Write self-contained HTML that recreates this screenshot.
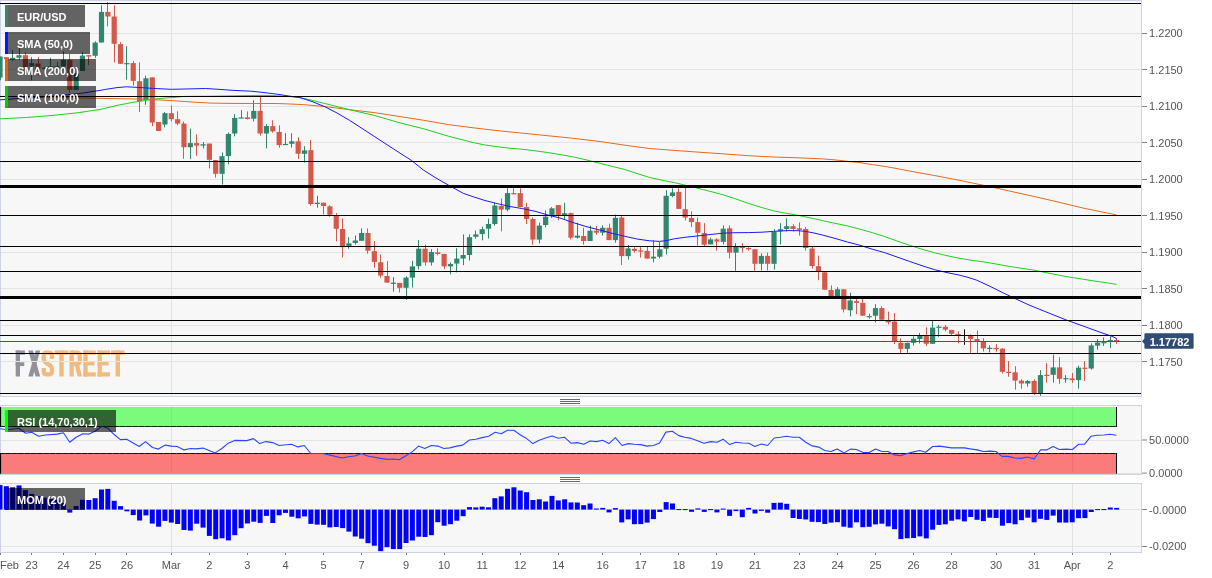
<!DOCTYPE html>
<html><head><meta charset="utf-8"><title>EUR/USD</title>
<style>html,body{margin:0;padding:0;background:#fff;width:1212px;height:578px;overflow:hidden}body{position:relative;font-family:"Liberation Sans", sans-serif}</style>
</head><body>
<svg width="1212" height="578" viewBox="0 0 1212 578" style="position:absolute;left:0;top:0;font-family:&quot;Liberation Sans&quot;,sans-serif">
<rect width="1212" height="578" fill="#ffffff"/>
<defs><filter id="gs" x="0" y="0" width="100%" height="100%" filterUnits="userSpaceOnUse" color-interpolation-filters="sRGB"><feOffset dx="0" dy="0"/></filter></defs>
<g filter="url(#gs)">
<rect x="0.5" y="0.5" width="1141" height="396" fill="#f7f7f7" stroke="#cdd2e7" stroke-width="1"/>
<line x1="171.5" x2="171.5" y1="1" y2="396" stroke="#e2e2e2" stroke-width="1"/>
<line x1="1072.5" x2="1072.5" y1="1" y2="396" stroke="#e2e2e2" stroke-width="1"/>
<g id="logo" transform="translate(0,350.5)">
<rect x="15.70" y="0.00" width="4.30" height="26.00" fill="#8f9299"/>
<rect x="15.70" y="0.00" width="9.20" height="4.20" fill="#8f9299"/>
<rect x="15.70" y="11.80" width="8.60" height="3.80" fill="#8f9299"/>
<polygon points="28.3,0 32.9,0 40.2,26 35.6,26" fill="#8f9299"/><polygon points="35.6,0 40.2,0 32.9,26 28.3,26" fill="#8f9299"/>
<path transform="translate(41.6,0)" d="M10.3,8.5 V5 Q10.3,2.15 7.5,2.15 H5 Q2.15,2.15 2.15,5 V8.6 Q2.15,10.6 4,11.9 L8.5,15 Q10.3,16.3 10.3,18.4 V21 Q10.3,23.85 7.5,23.85 H5 Q2.15,23.85 2.15,21 V17.5" fill="none" stroke="#f0bb7e" stroke-width="4.3"/>
<rect x="54.60" y="0.00" width="13.80" height="4.20" fill="#f0bb7e"/>
<rect x="59.30" y="0.00" width="4.40" height="26.00" fill="#f0bb7e"/>
<rect x="69.50" y="0.00" width="4.30" height="26.00" fill="#f0bb7e"/>
<path transform="translate(69.5,0)" d="M2.15,2.15 H7.4 Q10.2,2.15 10.2,5 V10.6 Q10.2,13.4 7.4,13.4 H2.15" fill="none" stroke="#f0bb7e" stroke-width="4.3"/>
<polygon points="74.7,14 79.1,14 81.9,26 77.5,26" fill="#f0bb7e"/>
<rect x="83.40" y="0.00" width="4.30" height="26.00" fill="#f0bb7e"/>
<rect x="83.40" y="0.00" width="12.40" height="4.20" fill="#f0bb7e"/>
<rect x="83.40" y="10.90" width="11.00" height="4.00" fill="#f0bb7e"/>
<rect x="83.40" y="21.80" width="12.40" height="4.20" fill="#f0bb7e"/>
<rect x="97.60" y="0.00" width="4.30" height="26.00" fill="#f0bb7e"/>
<rect x="97.60" y="0.00" width="12.40" height="4.20" fill="#f0bb7e"/>
<rect x="97.60" y="10.90" width="11.00" height="4.00" fill="#f0bb7e"/>
<rect x="97.60" y="21.80" width="12.40" height="4.20" fill="#f0bb7e"/>
<rect x="110.90" y="0.00" width="13.60" height="4.20" fill="#f0bb7e"/>
<rect x="115.60" y="0.00" width="4.40" height="26.00" fill="#f0bb7e"/>
</g>
<line x1="1" x2="1141" y1="33.5" y2="33.5" stroke="#e4e4e4" stroke-width="1"/>
<line x1="1" x2="1141" y1="69.5" y2="69.5" stroke="#e4e4e4" stroke-width="1"/>
<line x1="1" x2="1141" y1="106.5" y2="106.5" stroke="#e4e4e4" stroke-width="1"/>
<line x1="1" x2="1141" y1="142.5" y2="142.5" stroke="#e4e4e4" stroke-width="1"/>
<line x1="1" x2="1141" y1="179.5" y2="179.5" stroke="#e4e4e4" stroke-width="1"/>
<line x1="1" x2="1141" y1="215.5" y2="215.5" stroke="#e4e4e4" stroke-width="1"/>
<line x1="1" x2="1141" y1="252.5" y2="252.5" stroke="#e4e4e4" stroke-width="1"/>
<line x1="1" x2="1141" y1="288.5" y2="288.5" stroke="#e4e4e4" stroke-width="1"/>
<line x1="1" x2="1141" y1="325.5" y2="325.5" stroke="#e4e4e4" stroke-width="1"/>
<line x1="1" x2="1141" y1="361.5" y2="361.5" stroke="#e4e4e4" stroke-width="1"/>
<g id="candles">
<rect x="0" y="56.5" width="1" height="23.8" fill="#31866f"/>
<rect x="-2.60" y="56.5" width="5.2" height="21.1" fill="#31866f"/>
<rect x="6" y="57.2" width="1" height="1.9" fill="#d3594a"/>
<rect x="3.74" y="57.2" width="5.2" height="1.9" fill="#d3594a"/>
<rect x="12" y="49.9" width="1" height="10.6" fill="#31866f"/>
<rect x="10.09" y="57.8" width="5.2" height="2.0" fill="#31866f"/>
<rect x="19" y="47.9" width="1" height="11.9" fill="#31866f"/>
<rect x="16.43" y="55.2" width="5.2" height="2.6" fill="#31866f"/>
<rect x="25" y="52.5" width="1" height="14.5" fill="#d3594a"/>
<rect x="22.78" y="55.2" width="5.2" height="11.8" fill="#d3594a"/>
<rect x="31" y="57.2" width="1" height="23.1" fill="#31866f"/>
<rect x="29.12" y="63.1" width="5.2" height="3.3" fill="#31866f"/>
<rect x="38" y="57.2" width="1" height="18.4" fill="#d3594a"/>
<rect x="35.47" y="63.5" width="5.2" height="4.9" fill="#d3594a"/>
<rect x="44" y="67.0" width="1" height="2.0" fill="#31866f"/>
<rect x="41.81" y="67.6" width="5.2" height="1.2" fill="#31866f"/>
<rect x="50" y="57.8" width="1" height="9.7" fill="#31866f"/>
<rect x="48.16" y="66.4" width="5.2" height="1.2" fill="#31866f"/>
<rect x="57" y="61.8" width="1" height="5.5" fill="#31866f"/>
<rect x="54.50" y="66.3" width="5.2" height="1.2" fill="#31866f"/>
<rect x="63" y="51.2" width="1" height="15.2" fill="#31866f"/>
<rect x="60.84" y="59.8" width="5.2" height="6.6" fill="#31866f"/>
<rect x="69" y="53.9" width="1" height="38.9" fill="#d3594a"/>
<rect x="67.19" y="59.8" width="5.2" height="30.1" fill="#d3594a"/>
<rect x="76" y="73.0" width="1" height="16.9" fill="#31866f"/>
<rect x="73.53" y="73.0" width="5.2" height="16.9" fill="#31866f"/>
<rect x="82" y="51.9" width="1" height="19.1" fill="#31866f"/>
<rect x="79.88" y="55.6" width="5.2" height="15.4" fill="#31866f"/>
<rect x="88" y="55.2" width="1" height="9.9" fill="#d3594a"/>
<rect x="86.22" y="55.2" width="5.2" height="1.3" fill="#d3594a"/>
<rect x="95" y="41.3" width="1" height="16.5" fill="#31866f"/>
<rect x="92.57" y="42.6" width="5.2" height="13.2" fill="#31866f"/>
<rect x="101" y="5.3" width="1" height="37.2" fill="#31866f"/>
<rect x="98.91" y="11.9" width="5.2" height="30.6" fill="#31866f"/>
<rect x="107" y="2.0" width="1" height="24.4" fill="#d3594a"/>
<rect x="105.25" y="11.9" width="5.2" height="4.6" fill="#d3594a"/>
<rect x="114" y="5.3" width="1" height="57.1" fill="#d3594a"/>
<rect x="111.60" y="16.5" width="5.2" height="27.3" fill="#d3594a"/>
<rect x="120" y="42.2" width="1" height="21.6" fill="#d3594a"/>
<rect x="117.94" y="44.2" width="5.2" height="19.6" fill="#d3594a"/>
<rect x="126" y="46.2" width="1" height="33.4" fill="#31866f"/>
<rect x="124.29" y="63.1" width="5.2" height="1.2" fill="#31866f"/>
<rect x="133" y="61.1" width="1" height="24.4" fill="#d3594a"/>
<rect x="130.63" y="63.1" width="5.2" height="17.8" fill="#d3594a"/>
<rect x="139" y="62.4" width="1" height="49.6" fill="#d3594a"/>
<rect x="136.98" y="81.2" width="5.2" height="19.8" fill="#d3594a"/>
<rect x="145" y="75.6" width="1" height="29.1" fill="#31866f"/>
<rect x="143.32" y="78.3" width="5.2" height="21.7" fill="#31866f"/>
<rect x="152" y="77.4" width="1" height="48.7" fill="#d3594a"/>
<rect x="149.67" y="77.4" width="5.2" height="45.1" fill="#d3594a"/>
<rect x="158" y="122.0" width="1" height="9.0" fill="#d3594a"/>
<rect x="156.01" y="122.0" width="5.2" height="9.0" fill="#d3594a"/>
<rect x="164" y="112.0" width="1" height="15.4" fill="#31866f"/>
<rect x="162.35" y="113.2" width="5.2" height="11.3" fill="#31866f"/>
<rect x="171" y="105.5" width="1" height="16.0" fill="#d3594a"/>
<rect x="168.70" y="113.2" width="5.2" height="6.0" fill="#d3594a"/>
<rect x="177" y="111.3" width="1" height="14.0" fill="#d3594a"/>
<rect x="175.04" y="119.2" width="5.2" height="4.4" fill="#d3594a"/>
<rect x="183" y="121.5" width="1" height="37.3" fill="#d3594a"/>
<rect x="181.39" y="123.6" width="5.2" height="23.6" fill="#d3594a"/>
<rect x="190" y="128.6" width="1" height="30.5" fill="#31866f"/>
<rect x="187.73" y="143.1" width="5.2" height="4.1" fill="#31866f"/>
<rect x="196" y="134.4" width="1" height="21.4" fill="#d3594a"/>
<rect x="194.08" y="143.1" width="5.2" height="2.5" fill="#d3594a"/>
<rect x="203" y="142.1" width="1" height="6.3" fill="#31866f"/>
<rect x="200.42" y="144.3" width="5.2" height="1.3" fill="#31866f"/>
<rect x="209" y="143.6" width="1" height="24.8" fill="#d3594a"/>
<rect x="206.77" y="143.6" width="5.2" height="16.2" fill="#d3594a"/>
<rect x="215" y="160.1" width="1" height="17.5" fill="#d3594a"/>
<rect x="213.11" y="160.1" width="5.2" height="13.7" fill="#d3594a"/>
<rect x="222" y="152.4" width="1" height="32.2" fill="#31866f"/>
<rect x="219.45" y="156.2" width="5.2" height="17.6" fill="#31866f"/>
<rect x="228" y="132.4" width="1" height="32.0" fill="#31866f"/>
<rect x="225.80" y="134.0" width="5.2" height="22.1" fill="#31866f"/>
<rect x="234" y="114.2" width="1" height="22.1" fill="#31866f"/>
<rect x="232.14" y="117.9" width="5.2" height="15.6" fill="#31866f"/>
<rect x="241" y="110.1" width="1" height="8.1" fill="#31866f"/>
<rect x="238.49" y="117.4" width="5.2" height="1.2" fill="#31866f"/>
<rect x="247" y="111.3" width="1" height="8.2" fill="#d3594a"/>
<rect x="244.83" y="117.4" width="5.2" height="1.6" fill="#d3594a"/>
<rect x="253" y="100.2" width="1" height="21.3" fill="#31866f"/>
<rect x="251.18" y="110.9" width="5.2" height="7.8" fill="#31866f"/>
<rect x="260" y="96.4" width="1" height="39.1" fill="#d3594a"/>
<rect x="257.52" y="110.9" width="5.2" height="22.6" fill="#d3594a"/>
<rect x="266" y="124.1" width="1" height="24.3" fill="#31866f"/>
<rect x="263.86" y="126.1" width="5.2" height="7.4" fill="#31866f"/>
<rect x="272" y="120.3" width="1" height="12.4" fill="#d3594a"/>
<rect x="270.21" y="126.1" width="5.2" height="5.3" fill="#d3594a"/>
<rect x="279" y="125.3" width="1" height="22.3" fill="#d3594a"/>
<rect x="276.55" y="131.9" width="5.2" height="13.2" fill="#d3594a"/>
<rect x="285" y="133.2" width="1" height="11.9" fill="#31866f"/>
<rect x="282.90" y="143.9" width="5.2" height="1.2" fill="#31866f"/>
<rect x="291" y="133.2" width="1" height="14.4" fill="#31866f"/>
<rect x="289.24" y="141.3" width="5.2" height="2.5" fill="#31866f"/>
<rect x="298" y="137.3" width="1" height="21.8" fill="#d3594a"/>
<rect x="295.59" y="141.3" width="5.2" height="12.5" fill="#d3594a"/>
<rect x="304" y="146.2" width="1" height="16.4" fill="#31866f"/>
<rect x="301.93" y="150.4" width="5.2" height="3.4" fill="#31866f"/>
<rect x="310" y="140.1" width="1" height="65.6" fill="#d3594a"/>
<rect x="308.28" y="150.2" width="5.2" height="53.8" fill="#d3594a"/>
<rect x="317" y="195.8" width="1" height="11.9" fill="#31866f"/>
<rect x="314.62" y="202.7" width="5.2" height="1.3" fill="#31866f"/>
<rect x="323" y="202.7" width="1" height="11.7" fill="#d3594a"/>
<rect x="320.96" y="202.7" width="5.2" height="3.3" fill="#d3594a"/>
<rect x="329" y="205.2" width="1" height="11.5" fill="#d3594a"/>
<rect x="327.31" y="206.3" width="5.2" height="8.5" fill="#d3594a"/>
<rect x="336" y="213.1" width="1" height="28.2" fill="#d3594a"/>
<rect x="333.65" y="215.1" width="5.2" height="13.7" fill="#d3594a"/>
<rect x="342" y="218.3" width="1" height="39.2" fill="#d3594a"/>
<rect x="340.00" y="229.0" width="5.2" height="18.1" fill="#d3594a"/>
<rect x="348" y="237.2" width="1" height="11.5" fill="#31866f"/>
<rect x="346.34" y="243.3" width="5.2" height="2.6" fill="#31866f"/>
<rect x="355" y="235.5" width="1" height="9.1" fill="#31866f"/>
<rect x="352.69" y="240.5" width="5.2" height="2.5" fill="#31866f"/>
<rect x="361" y="228.4" width="1" height="12.4" fill="#31866f"/>
<rect x="359.03" y="233.0" width="5.2" height="7.8" fill="#31866f"/>
<rect x="367" y="228.4" width="1" height="25.3" fill="#d3594a"/>
<rect x="365.38" y="233.0" width="5.2" height="17.7" fill="#d3594a"/>
<rect x="374" y="241.3" width="1" height="26.4" fill="#d3594a"/>
<rect x="371.72" y="251.2" width="5.2" height="10.7" fill="#d3594a"/>
<rect x="380" y="254.5" width="1" height="23.1" fill="#d3594a"/>
<rect x="378.06" y="262.3" width="5.2" height="13.3" fill="#d3594a"/>
<rect x="387" y="261.1" width="1" height="21.5" fill="#d3594a"/>
<rect x="384.41" y="276.0" width="5.2" height="6.6" fill="#d3594a"/>
<rect x="393" y="277.1" width="1" height="14.5" fill="#31866f"/>
<rect x="390.75" y="282.6" width="5.2" height="1.3" fill="#31866f"/>
<rect x="399" y="282.9" width="1" height="9.6" fill="#d3594a"/>
<rect x="397.10" y="282.9" width="5.2" height="4.9" fill="#d3594a"/>
<rect x="406" y="276.3" width="1" height="23.6" fill="#31866f"/>
<rect x="403.44" y="277.6" width="5.2" height="10.2" fill="#31866f"/>
<rect x="412" y="260.8" width="1" height="26.7" fill="#31866f"/>
<rect x="409.79" y="266.4" width="5.2" height="11.2" fill="#31866f"/>
<rect x="418" y="240.1" width="1" height="29.3" fill="#31866f"/>
<rect x="416.13" y="248.7" width="5.2" height="17.4" fill="#31866f"/>
<rect x="425" y="244.6" width="1" height="21.0" fill="#d3594a"/>
<rect x="422.47" y="248.7" width="5.2" height="13.7" fill="#d3594a"/>
<rect x="431" y="249.2" width="1" height="16.4" fill="#31866f"/>
<rect x="428.82" y="252.0" width="5.2" height="10.4" fill="#31866f"/>
<rect x="437" y="248.2" width="1" height="7.1" fill="#d3594a"/>
<rect x="435.16" y="252.4" width="5.2" height="1.6" fill="#d3594a"/>
<rect x="444" y="253.7" width="1" height="15.2" fill="#d3594a"/>
<rect x="441.51" y="254.0" width="5.2" height="12.4" fill="#d3594a"/>
<rect x="450" y="262.4" width="1" height="11.9" fill="#31866f"/>
<rect x="447.85" y="263.9" width="5.2" height="2.5" fill="#31866f"/>
<rect x="456" y="248.2" width="1" height="24.1" fill="#31866f"/>
<rect x="454.20" y="258.6" width="5.2" height="5.0" fill="#31866f"/>
<rect x="463" y="234.4" width="1" height="30.8" fill="#31866f"/>
<rect x="460.54" y="255.0" width="5.2" height="3.6" fill="#31866f"/>
<rect x="469" y="234.4" width="1" height="26.2" fill="#31866f"/>
<rect x="466.89" y="237.2" width="5.2" height="17.8" fill="#31866f"/>
<rect x="475" y="230.6" width="1" height="8.0" fill="#31866f"/>
<rect x="473.23" y="234.4" width="5.2" height="2.4" fill="#31866f"/>
<rect x="482" y="226.5" width="1" height="13.8" fill="#31866f"/>
<rect x="479.57" y="229.2" width="5.2" height="4.9" fill="#31866f"/>
<rect x="488" y="218.6" width="1" height="20.0" fill="#31866f"/>
<rect x="485.92" y="224.0" width="5.2" height="4.7" fill="#31866f"/>
<rect x="494" y="202.7" width="1" height="22.9" fill="#31866f"/>
<rect x="492.26" y="205.5" width="5.2" height="18.5" fill="#31866f"/>
<rect x="501" y="198.4" width="1" height="33.0" fill="#d3594a"/>
<rect x="498.61" y="206.0" width="5.2" height="3.6" fill="#d3594a"/>
<rect x="507" y="188.2" width="1" height="23.1" fill="#31866f"/>
<rect x="504.95" y="193.1" width="5.2" height="16.5" fill="#31866f"/>
<rect x="513" y="188.2" width="1" height="6.1" fill="#d3594a"/>
<rect x="511.30" y="193.1" width="5.2" height="1.2" fill="#d3594a"/>
<rect x="520" y="188.2" width="1" height="18.9" fill="#d3594a"/>
<rect x="517.64" y="193.1" width="5.2" height="14.0" fill="#d3594a"/>
<rect x="526" y="202.7" width="1" height="21.4" fill="#d3594a"/>
<rect x="523.99" y="207.1" width="5.2" height="11.9" fill="#d3594a"/>
<rect x="532" y="217.5" width="1" height="27.1" fill="#d3594a"/>
<rect x="530.33" y="219.0" width="5.2" height="20.6" fill="#d3594a"/>
<rect x="539" y="222.5" width="1" height="20.9" fill="#31866f"/>
<rect x="536.67" y="225.6" width="5.2" height="14.0" fill="#31866f"/>
<rect x="545" y="210.4" width="1" height="17.0" fill="#31866f"/>
<rect x="543.02" y="216.7" width="5.2" height="8.3" fill="#31866f"/>
<rect x="551" y="207.1" width="1" height="10.8" fill="#31866f"/>
<rect x="549.36" y="208.3" width="5.2" height="7.9" fill="#31866f"/>
<rect x="558" y="205.1" width="1" height="15.2" fill="#d3594a"/>
<rect x="555.71" y="205.1" width="5.2" height="10.3" fill="#d3594a"/>
<rect x="564" y="202.7" width="1" height="16.8" fill="#31866f"/>
<rect x="562.05" y="213.2" width="5.2" height="2.2" fill="#31866f"/>
<rect x="570" y="212.6" width="1" height="26.7" fill="#d3594a"/>
<rect x="568.40" y="213.2" width="5.2" height="24.5" fill="#d3594a"/>
<rect x="577" y="222.8" width="1" height="15.7" fill="#31866f"/>
<rect x="574.74" y="235.7" width="5.2" height="2.0" fill="#31866f"/>
<rect x="583" y="227.8" width="1" height="16.8" fill="#d3594a"/>
<rect x="581.08" y="236.0" width="5.2" height="5.0" fill="#d3594a"/>
<rect x="590" y="225.6" width="1" height="15.4" fill="#31866f"/>
<rect x="587.43" y="230.7" width="5.2" height="10.3" fill="#31866f"/>
<rect x="596" y="226.1" width="1" height="8.6" fill="#d3594a"/>
<rect x="593.77" y="230.7" width="5.2" height="2.0" fill="#d3594a"/>
<rect x="602" y="225.3" width="1" height="10.2" fill="#31866f"/>
<rect x="600.12" y="227.8" width="5.2" height="4.9" fill="#31866f"/>
<rect x="609" y="223.6" width="1" height="16.5" fill="#d3594a"/>
<rect x="606.46" y="227.8" width="5.2" height="12.3" fill="#d3594a"/>
<rect x="615" y="214.6" width="1" height="28.0" fill="#31866f"/>
<rect x="612.81" y="217.9" width="5.2" height="22.2" fill="#31866f"/>
<rect x="621" y="215.9" width="1" height="49.0" fill="#d3594a"/>
<rect x="619.15" y="217.5" width="5.2" height="38.6" fill="#d3594a"/>
<rect x="628" y="245.1" width="1" height="14.5" fill="#31866f"/>
<rect x="625.50" y="248.4" width="5.2" height="7.7" fill="#31866f"/>
<rect x="634" y="247.2" width="1" height="5.3" fill="#d3594a"/>
<rect x="631.84" y="248.9" width="5.2" height="2.0" fill="#d3594a"/>
<rect x="640" y="247.2" width="1" height="10.3" fill="#d3594a"/>
<rect x="638.18" y="250.4" width="5.2" height="1.3" fill="#d3594a"/>
<rect x="647" y="246.7" width="1" height="11.9" fill="#d3594a"/>
<rect x="644.53" y="250.9" width="5.2" height="7.7" fill="#d3594a"/>
<rect x="653" y="240.2" width="1" height="22.2" fill="#31866f"/>
<rect x="650.87" y="256.7" width="5.2" height="1.8" fill="#31866f"/>
<rect x="659" y="242.1" width="1" height="16.3" fill="#31866f"/>
<rect x="657.22" y="249.3" width="5.2" height="7.4" fill="#31866f"/>
<rect x="666" y="190.2" width="1" height="64.2" fill="#31866f"/>
<rect x="663.56" y="195.8" width="5.2" height="52.9" fill="#31866f"/>
<rect x="672" y="188.3" width="1" height="9.0" fill="#31866f"/>
<rect x="669.91" y="192.4" width="5.2" height="3.6" fill="#31866f"/>
<rect x="678" y="188.3" width="1" height="20.6" fill="#d3594a"/>
<rect x="676.25" y="191.9" width="5.2" height="17.0" fill="#d3594a"/>
<rect x="685" y="186.9" width="1" height="33.5" fill="#d3594a"/>
<rect x="682.60" y="209.2" width="5.2" height="8.4" fill="#d3594a"/>
<rect x="691" y="211.4" width="1" height="15.6" fill="#d3594a"/>
<rect x="688.94" y="218.0" width="5.2" height="4.1" fill="#d3594a"/>
<rect x="697" y="217.6" width="1" height="28.1" fill="#d3594a"/>
<rect x="695.28" y="222.1" width="5.2" height="10.7" fill="#d3594a"/>
<rect x="704" y="223.2" width="1" height="23.6" fill="#d3594a"/>
<rect x="701.63" y="233.1" width="5.2" height="11.6" fill="#d3594a"/>
<rect x="710" y="237.8" width="1" height="6.6" fill="#31866f"/>
<rect x="707.97" y="239.4" width="5.2" height="5.0" fill="#31866f"/>
<rect x="716" y="238.3" width="1" height="12.3" fill="#d3594a"/>
<rect x="714.32" y="239.4" width="5.2" height="2.2" fill="#d3594a"/>
<rect x="723" y="225.4" width="1" height="19.0" fill="#31866f"/>
<rect x="720.66" y="228.7" width="5.2" height="13.2" fill="#31866f"/>
<rect x="729" y="225.4" width="1" height="33.0" fill="#d3594a"/>
<rect x="727.01" y="228.3" width="5.2" height="24.3" fill="#d3594a"/>
<rect x="735" y="243.2" width="1" height="27.6" fill="#31866f"/>
<rect x="733.35" y="246.0" width="5.2" height="6.6" fill="#31866f"/>
<rect x="742" y="243.2" width="1" height="9.4" fill="#d3594a"/>
<rect x="739.69" y="246.8" width="5.2" height="1.2" fill="#d3594a"/>
<rect x="748" y="247.3" width="1" height="3.3" fill="#d3594a"/>
<rect x="746.04" y="248.0" width="5.2" height="1.3" fill="#d3594a"/>
<rect x="754" y="249.3" width="1" height="21.5" fill="#d3594a"/>
<rect x="752.38" y="249.3" width="5.2" height="14.5" fill="#d3594a"/>
<rect x="761" y="253.4" width="1" height="17.0" fill="#31866f"/>
<rect x="758.73" y="255.9" width="5.2" height="7.9" fill="#31866f"/>
<rect x="767" y="252.6" width="1" height="17.8" fill="#d3594a"/>
<rect x="765.07" y="255.9" width="5.2" height="7.9" fill="#d3594a"/>
<rect x="774" y="229.2" width="1" height="40.4" fill="#31866f"/>
<rect x="771.42" y="232.0" width="5.2" height="31.8" fill="#31866f"/>
<rect x="780" y="223.2" width="1" height="21.2" fill="#31866f"/>
<rect x="777.76" y="229.2" width="5.2" height="2.0" fill="#31866f"/>
<rect x="786" y="218.3" width="1" height="13.2" fill="#31866f"/>
<rect x="784.11" y="226.2" width="5.2" height="2.8" fill="#31866f"/>
<rect x="793" y="224.2" width="1" height="7.3" fill="#d3594a"/>
<rect x="790.45" y="226.2" width="5.2" height="2.8" fill="#d3594a"/>
<rect x="799" y="222.4" width="1" height="13.2" fill="#d3594a"/>
<rect x="796.79" y="228.3" width="5.2" height="1.5" fill="#d3594a"/>
<rect x="805" y="227.0" width="1" height="23.6" fill="#d3594a"/>
<rect x="803.14" y="229.0" width="5.2" height="19.0" fill="#d3594a"/>
<rect x="812" y="246.8" width="1" height="21.7" fill="#d3594a"/>
<rect x="809.48" y="248.5" width="5.2" height="17.5" fill="#d3594a"/>
<rect x="818" y="255.6" width="1" height="24.6" fill="#d3594a"/>
<rect x="815.83" y="266.2" width="5.2" height="5.3" fill="#d3594a"/>
<rect x="824" y="272.3" width="1" height="17.4" fill="#d3594a"/>
<rect x="822.17" y="272.3" width="5.2" height="17.4" fill="#d3594a"/>
<rect x="831" y="285.5" width="1" height="10.8" fill="#d3594a"/>
<rect x="828.52" y="290.0" width="5.2" height="6.3" fill="#d3594a"/>
<rect x="837" y="287.2" width="1" height="9.1" fill="#31866f"/>
<rect x="834.86" y="289.3" width="5.2" height="7.0" fill="#31866f"/>
<rect x="843" y="289.3" width="1" height="23.1" fill="#d3594a"/>
<rect x="841.21" y="289.3" width="5.2" height="20.2" fill="#d3594a"/>
<rect x="850" y="292.6" width="1" height="23.8" fill="#31866f"/>
<rect x="847.55" y="300.4" width="5.2" height="9.9" fill="#31866f"/>
<rect x="856" y="298.7" width="1" height="15.4" fill="#d3594a"/>
<rect x="853.89" y="301.2" width="5.2" height="1.7" fill="#d3594a"/>
<rect x="862" y="299.2" width="1" height="16.5" fill="#d3594a"/>
<rect x="860.24" y="302.9" width="5.2" height="12.8" fill="#d3594a"/>
<rect x="869" y="313.6" width="1" height="4.9" fill="#31866f"/>
<rect x="866.58" y="316.0" width="5.2" height="1.2" fill="#31866f"/>
<rect x="875" y="304.2" width="1" height="18.1" fill="#31866f"/>
<rect x="872.93" y="308.1" width="5.2" height="7.6" fill="#31866f"/>
<rect x="881" y="306.2" width="1" height="14.8" fill="#d3594a"/>
<rect x="879.27" y="308.1" width="5.2" height="11.6" fill="#d3594a"/>
<rect x="888" y="311.6" width="1" height="12.7" fill="#d3594a"/>
<rect x="885.62" y="321.0" width="5.2" height="1.3" fill="#d3594a"/>
<rect x="894" y="313.1" width="1" height="31.0" fill="#d3594a"/>
<rect x="891.96" y="321.5" width="5.2" height="20.1" fill="#d3594a"/>
<rect x="900" y="338.3" width="1" height="14.7" fill="#d3594a"/>
<rect x="898.30" y="342.8" width="5.2" height="6.1" fill="#d3594a"/>
<rect x="907" y="342.8" width="1" height="10.0" fill="#31866f"/>
<rect x="904.65" y="342.8" width="5.2" height="6.1" fill="#31866f"/>
<rect x="913" y="336.3" width="1" height="9.2" fill="#31866f"/>
<rect x="910.99" y="338.8" width="5.2" height="4.0" fill="#31866f"/>
<rect x="919" y="332.9" width="1" height="10.6" fill="#31866f"/>
<rect x="917.34" y="335.3" width="5.2" height="3.7" fill="#31866f"/>
<rect x="926" y="327.3" width="1" height="18.5" fill="#d3594a"/>
<rect x="923.68" y="335.4" width="5.2" height="8.4" fill="#d3594a"/>
<rect x="932" y="321.0" width="1" height="22.8" fill="#31866f"/>
<rect x="930.03" y="327.6" width="5.2" height="16.2" fill="#31866f"/>
<rect x="938" y="324.9" width="1" height="11.9" fill="#31866f"/>
<rect x="936.37" y="326.7" width="5.2" height="1.2" fill="#31866f"/>
<rect x="945" y="325.1" width="1" height="6.1" fill="#d3594a"/>
<rect x="942.72" y="326.8" width="5.2" height="2.8" fill="#d3594a"/>
<rect x="951" y="329.9" width="1" height="4.9" fill="#d3594a"/>
<rect x="949.06" y="329.9" width="5.2" height="3.9" fill="#d3594a"/>
<rect x="958" y="331.2" width="1" height="12.1" fill="#d3594a"/>
<rect x="955.40" y="334.0" width="5.2" height="1.2" fill="#d3594a"/>
<rect x="964" y="329.4" width="1" height="15.4" fill="#111111"/>
<rect x="970" y="334.3" width="1" height="18.6" fill="#d3594a"/>
<rect x="968.09" y="336.0" width="5.2" height="3.0" fill="#d3594a"/>
<rect x="977" y="330.4" width="1" height="22.7" fill="#d3594a"/>
<rect x="974.44" y="339.0" width="5.2" height="2.0" fill="#d3594a"/>
<rect x="983" y="338.1" width="1" height="13.4" fill="#d3594a"/>
<rect x="980.78" y="341.4" width="5.2" height="7.0" fill="#d3594a"/>
<rect x="989" y="345.2" width="1" height="7.2" fill="#31866f"/>
<rect x="987.13" y="347.8" width="5.2" height="1.2" fill="#31866f"/>
<rect x="996" y="344.1" width="1" height="7.6" fill="#d3594a"/>
<rect x="993.47" y="347.9" width="5.2" height="1.3" fill="#d3594a"/>
<rect x="1002" y="348.0" width="1" height="25.5" fill="#d3594a"/>
<rect x="999.82" y="348.7" width="5.2" height="23.1" fill="#d3594a"/>
<rect x="1008" y="361.1" width="1" height="15.7" fill="#d3594a"/>
<rect x="1006.16" y="371.8" width="5.2" height="1.2" fill="#d3594a"/>
<rect x="1015" y="366.1" width="1" height="23.6" fill="#d3594a"/>
<rect x="1012.50" y="372.3" width="5.2" height="8.3" fill="#d3594a"/>
<rect x="1021" y="379.3" width="1" height="9.4" fill="#d3594a"/>
<rect x="1018.85" y="380.7" width="5.2" height="2.8" fill="#d3594a"/>
<rect x="1027" y="380.1" width="1" height="6.6" fill="#31866f"/>
<rect x="1025.19" y="381.0" width="5.2" height="2.5" fill="#31866f"/>
<rect x="1034" y="379.3" width="1" height="15.6" fill="#d3594a"/>
<rect x="1031.54" y="380.9" width="5.2" height="12.1" fill="#d3594a"/>
<rect x="1040" y="370.2" width="1" height="25.6" fill="#31866f"/>
<rect x="1037.88" y="375.1" width="5.2" height="18.2" fill="#31866f"/>
<rect x="1046" y="363.1" width="1" height="19.5" fill="#d3594a"/>
<rect x="1044.23" y="374.8" width="5.2" height="1.2" fill="#d3594a"/>
<rect x="1053" y="354.5" width="1" height="28.1" fill="#31866f"/>
<rect x="1050.57" y="367.4" width="5.2" height="7.4" fill="#31866f"/>
<rect x="1059" y="357.3" width="1" height="26.6" fill="#d3594a"/>
<rect x="1056.91" y="367.4" width="5.2" height="11.4" fill="#d3594a"/>
<rect x="1065" y="375.1" width="1" height="7.5" fill="#31866f"/>
<rect x="1063.26" y="378.1" width="5.2" height="1.2" fill="#31866f"/>
<rect x="1072" y="373.0" width="1" height="9.9" fill="#d3594a"/>
<rect x="1069.60" y="378.4" width="5.2" height="1.7" fill="#d3594a"/>
<rect x="1078" y="365.7" width="1" height="23.0" fill="#31866f"/>
<rect x="1075.95" y="367.7" width="5.2" height="12.4" fill="#31866f"/>
<rect x="1084" y="361.1" width="1" height="19.8" fill="#d3594a"/>
<rect x="1082.29" y="367.7" width="5.2" height="1.2" fill="#d3594a"/>
<rect x="1091" y="343.3" width="1" height="26.4" fill="#31866f"/>
<rect x="1088.64" y="345.4" width="5.2" height="23.1" fill="#31866f"/>
<rect x="1097" y="339.2" width="1" height="10.4" fill="#31866f"/>
<rect x="1094.98" y="342.5" width="5.2" height="3.1" fill="#31866f"/>
<rect x="1103" y="337.5" width="1" height="8.4" fill="#31866f"/>
<rect x="1101.33" y="342.1" width="5.2" height="1.2" fill="#31866f"/>
<rect x="1110" y="336.4" width="1" height="11.5" fill="#31866f"/>
<rect x="1107.67" y="340.0" width="5.2" height="1.2" fill="#31866f"/>
<rect x="1116" y="338.0" width="1" height="6.1" fill="#d3594a"/>
<rect x="1114.01" y="340.0" width="5.2" height="1.2" fill="#d3594a"/>
</g>
<polyline points="0.0,96.4 50.0,97.3 96.4,98.3 132.0,98.9 145.0,99.3 158.4,99.9 171.0,100.6 184.8,101.5 198.0,102.4 211.2,103.1 230.0,103.4 250.8,103.5 277.2,103.5 290.0,104.0 303.6,104.6 312.0,105.4 324.8,106.5 349.5,109.7 374.3,112.6 399.0,116.4 423.8,120.3 448.5,124.6 473.3,127.8 498.0,130.7 522.8,133.2 547.5,135.7 572.3,138.2 600.0,141.5 624.8,145.2 649.5,148.5 674.3,150.4 699.0,152.2 723.8,153.9 748.5,155.7 773.3,157.0 798.0,157.8 822.8,158.9 835.0,159.9 847.5,161.3 860.0,162.6 872.3,164.6 884.8,166.4 897.0,168.6 909.5,171.0 934.3,175.5 959.0,180.2 983.8,185.4 1008.5,190.8 1033.3,196.3 1058.0,202.0 1082.8,208.0 1107.5,213.1 1116.5,214.9" fill="none" stroke="#e8691b" stroke-width="1.0" stroke-linejoin="round"/>
<polyline points="0.0,118.8 26.4,117.5 52.8,115.4 79.2,112.6 92.0,110.6 100.0,109.5 105.6,108.2 118.0,105.2 126.4,103.6 132.0,102.5 145.0,100.5 152.8,99.3 158.4,98.6 171.3,97.6 184.8,96.4 211.2,96.2 235.0,95.8 250.8,95.5 265.0,95.4 277.2,95.8 290.0,96.6 300.0,97.6 312.0,100.3 324.8,103.5 349.5,109.7 374.3,115.4 399.0,122.6 423.8,128.8 448.5,136.2 473.3,142.6 485.0,145.0 498.0,146.8 510.0,148.2 522.8,149.3 535.0,150.8 547.5,152.5 560.0,154.5 572.3,156.7 586.0,159.8 600.0,163.3 612.0,166.3 624.8,169.5 637.0,173.5 649.5,177.4 662.0,180.2 674.3,182.6 686.0,185.4 699.0,188.6 711.0,191.6 723.8,195.0 736.0,199.0 748.5,203.4 761.0,207.3 773.3,210.8 786.0,213.3 798.0,215.3 810.0,217.8 822.8,220.7 835.0,223.3 847.5,225.9 860.0,229.2 872.3,232.6 884.8,236.6 897.0,241.0 909.5,245.3 922.0,249.2 934.3,252.7 947.0,255.7 959.0,258.2 971.0,260.2 983.8,261.9 996.0,264.0 1008.5,266.3 1021.0,268.2 1033.3,270.0 1045.0,272.4 1058.0,275.0 1070.0,277.2 1082.8,279.2 1095.0,281.1 1107.5,282.9 1116.5,284.4" fill="none" stroke="#1fd11f" stroke-width="1.0" stroke-linejoin="round"/>
<polyline points="0.0,99.8 26.0,98.0 52.0,96.2 79.0,93.6 100.0,90.4 105.6,89.4 117.0,87.6 126.4,86.8 138.0,87.4 152.8,88.4 171.3,89.3 190.0,88.9 205.6,88.5 220.0,89.4 232.0,90.3 250.8,91.2 260.0,92.1 265.0,92.7 277.2,94.2 290.0,96.2 300.0,97.6 312.0,101.5 324.8,106.7 337.0,113.0 349.5,120.3 374.3,136.4 399.0,152.5 411.4,160.4 423.8,170.3 436.0,178.0 448.5,185.2 463.4,193.4 473.3,196.8 485.0,200.5 498.0,203.8 510.0,206.5 522.8,208.7 536.0,211.5 547.5,214.9 560.0,218.0 572.3,222.3 586.0,226.5 600.0,230.1 612.0,233.3 624.8,236.3 637.0,239.0 649.5,240.8 659.4,241.4 667.0,240.5 674.3,238.8 686.0,237.2 699.0,235.8 712.0,234.3 723.8,233.1 736.0,232.7 748.5,232.6 762.0,232.2 773.3,231.4 788.0,230.6 798.0,230.7 805.4,231.4 814.0,233.0 822.8,235.1 835.0,238.4 847.5,242.0 860.0,245.3 872.3,249.2 884.8,252.7 897.0,257.0 909.5,261.4 922.0,265.7 934.3,269.6 947.0,272.6 959.0,275.0 968.0,277.4 976.3,280.0 990.0,286.3 1003.6,293.1 1016.0,299.0 1029.0,305.0 1047.0,312.3 1066.0,319.9 1083.0,326.0 1100.0,332.2 1110.0,335.6 1114.0,337.2 1116.7,338.8" fill="none" stroke="#1a1aff" stroke-width="1.0" stroke-linejoin="round"/>
<rect x="0" y="3" width="1141" height="1" fill="#000"/>
<rect x="0" y="96" width="1141" height="1" fill="#000"/>
<rect x="0" y="161" width="1141" height="1" fill="#000"/>
<rect x="0" y="215" width="1141" height="1" fill="#000"/>
<rect x="0" y="246" width="1141" height="1" fill="#000"/>
<rect x="0" y="271" width="1141" height="1" fill="#000"/>
<rect x="0" y="320" width="1141" height="1" fill="#000"/>
<rect x="0" y="335" width="1141" height="1" fill="#000"/>
<rect x="0" y="353" width="1141" height="1" fill="#000"/>
<rect x="0" y="393" width="1141" height="1" fill="#000"/>
<rect x="0" y="185" width="1141" height="3" fill="#000"/>
<rect x="0" y="296" width="1141" height="3" fill="#000"/>
<rect x="0" y="341" width="1141" height="1" fill="#3b5780"/>
<rect x="1141" y="0" width="1" height="397" fill="#cdd2e7"/>
<rect x="8" y="5" width="77" height="22" fill="rgba(0,0,0,0.6)"/>
<rect x="5" y="5" width="3" height="22" fill="#2f8a74"/>
<text x="17" y="20.8" font-size="11" font-weight="bold" fill="#ffffff">EUR/USD</text>
<rect x="8" y="32" width="82" height="22" fill="rgba(0,0,0,0.6)"/>
<rect x="5" y="32" width="3" height="22" fill="#0a14ff"/>
<text x="17" y="47.8" font-size="11" font-weight="bold" fill="#ffffff">SMA (50,0)</text>
<rect x="8" y="59" width="88" height="22" fill="rgba(0,0,0,0.6)"/>
<rect x="5" y="59" width="3" height="22" fill="#e8600c"/>
<text x="17" y="74.8" font-size="11" font-weight="bold" fill="#ffffff">SMA (200,0)</text>
<rect x="8" y="86" width="88" height="22" fill="rgba(0,0,0,0.6)"/>
<rect x="5" y="86" width="3" height="22" fill="#00d000"/>
<text x="17" y="101.8" font-size="11" font-weight="bold" fill="#ffffff">SMA (100,0)</text>
<line x1="1142" x2="1147" y1="33.5" y2="33.5" stroke="#808080" stroke-width="1"/>
<text x="1149.1" y="36.75" font-size="11" fill="#555555">1.2200</text>
<line x1="1142" x2="1147" y1="69.5" y2="69.5" stroke="#808080" stroke-width="1"/>
<text x="1149.1" y="73.75" font-size="11" fill="#555555">1.2150</text>
<line x1="1142" x2="1147" y1="106.5" y2="106.5" stroke="#808080" stroke-width="1"/>
<text x="1149.1" y="109.75" font-size="11" fill="#555555">1.2100</text>
<line x1="1142" x2="1147" y1="142.5" y2="142.5" stroke="#808080" stroke-width="1"/>
<text x="1149.1" y="146.75" font-size="11" fill="#555555">1.2050</text>
<line x1="1142" x2="1147" y1="179.5" y2="179.5" stroke="#808080" stroke-width="1"/>
<text x="1149.1" y="182.75" font-size="11" fill="#555555">1.2000</text>
<line x1="1142" x2="1147" y1="215.5" y2="215.5" stroke="#808080" stroke-width="1"/>
<text x="1149.1" y="219.75" font-size="11" fill="#555555">1.1950</text>
<line x1="1142" x2="1147" y1="252.5" y2="252.5" stroke="#808080" stroke-width="1"/>
<text x="1149.1" y="255.75" font-size="11" fill="#555555">1.1900</text>
<line x1="1142" x2="1147" y1="288.5" y2="288.5" stroke="#808080" stroke-width="1"/>
<text x="1149.1" y="292.75" font-size="11" fill="#555555">1.1850</text>
<line x1="1142" x2="1147" y1="325.5" y2="325.5" stroke="#808080" stroke-width="1"/>
<text x="1149.1" y="328.75" font-size="11" fill="#555555">1.1800</text>
<line x1="1142" x2="1147" y1="361.5" y2="361.5" stroke="#808080" stroke-width="1"/>
<text x="1149.1" y="365.75" font-size="11" fill="#555555">1.1750</text>
<path d="M1142,341.3 L1144.4,338.6 L1144.4,334.3 Q1144.4,333.3 1145.4,333.3 L1192.6,333.3 Q1193.6,333.3 1193.6,334.3 L1193.6,347.7 Q1193.6,348.7 1192.6,348.7 L1145.4,348.7 Q1144.4,348.7 1144.4,347.7 L1144.4,344 Z" fill="#2f4b76"/>
<text x="1149.7" y="346" font-size="11" font-weight="bold" fill="#ffffff">1.17782</text>
<rect x="560" y="399" width="20" height="1" fill="#6a6a6a"/>
<rect x="560" y="401" width="20" height="1" fill="#6a6a6a"/>
<rect x="560" y="403" width="20" height="1" fill="#6a6a6a"/>
<rect x="560" y="477" width="20" height="1" fill="#6a6a6a"/>
<rect x="560" y="479" width="20" height="1" fill="#6a6a6a"/>
<rect x="560" y="481" width="20" height="1" fill="#6a6a6a"/>
<rect x="0.5" y="405.5" width="1141" height="69" fill="#f7f7f7" stroke="#cdd2e7" stroke-width="1"/>
<line x1="171.5" x2="171.5" y1="406" y2="474" stroke="#e2e2e2" stroke-width="1"/>
<line x1="1072.5" x2="1072.5" y1="406" y2="474" stroke="#e2e2e2" stroke-width="1"/>
<line x1="1" x2="1141" y1="440.5" y2="440.5" stroke="#e4e4e4" stroke-width="1"/>
<line x1="1" x2="1141" y1="473.5" y2="473.5" stroke="#e4e4e4" stroke-width="1"/>
<rect x="1" y="407" width="1115.5" height="19.5" fill="rgba(0,255,0,0.5)"/>
<rect x="1" y="453.3" width="1115.5" height="20.5" fill="rgba(255,0,0,0.5)"/>
<line x1="1" x2="1116.5" y1="426.5" y2="426.5" stroke="rgba(0,0,0,0.5)" stroke-width="1.2"/>
<line x1="1" x2="1116.5" y1="453.5" y2="453.5" stroke="rgba(0,0,0,0.5)" stroke-width="1.2"/>
<line x1="1" x2="1116.5" y1="426.5" y2="426.5" stroke="#062806" stroke-width="1.2" stroke-dasharray="5.745,0.6" stroke-dashoffset="2"/>
<line x1="1" x2="1116.5" y1="453.5" y2="453.5" stroke="#2e0606" stroke-width="1.2" stroke-dasharray="5.745,0.6" stroke-dashoffset="2"/>
<rect x="0" y="407" width="1.1" height="20" fill="#000"/><rect x="1116" y="407" width="1" height="20" fill="#000"/>
<rect x="0" y="453" width="1.1" height="20.8" fill="#000"/><rect x="1116" y="453" width="1" height="20.8" fill="#000"/>
<polyline points="0.0,428.7 7.9,429.7 18.8,428.3 25.7,433.3 31.7,432.3 38.6,436.2 45.5,435.0 57.4,434.1 63.4,432.7 69.7,442.2 76.2,437.2 82.8,433.7 89.1,434.1 95.0,431.3 102.0,426.3 107.9,428.3 113.9,434.3 120.4,439.6 126.7,439.2 139.2,446.5 145.5,441.6 152.5,447.5 158.4,449.1 165.3,445.1 171.3,446.1 177.2,446.5 184.2,449.9 190.5,448.5 196.0,448.9 203.0,448.1 215.2,452.9 221.8,448.5 227.7,443.6 234.7,440.4 246.8,440.6 253.4,438.6 259.7,443.6 266.0,441.6 272.6,442.6 279.1,445.5 291.4,444.2 297.9,446.9 304.3,445.5 310.8,453.5 323.1,453.5 329.0,454.9 341.9,458.0 348.4,456.8 354.8,456.0 361.7,453.5 367.6,456.0 380.5,458.4 387.4,459.4 393.4,459.0 399.3,459.8 405.6,456.0 412.2,451.9 418.5,446.1 424.7,448.5 431.4,445.5 437.9,446.1 443.9,448.5 449.8,447.9 456.7,446.1 462.7,445.1 469.5,440.0 475.8,439.2 482.2,437.6 488.7,436.2 495.2,432.3 501.2,433.7 507.5,430.3 513.9,430.3 520.4,435.0 526.7,438.6 532.9,443.6 539.2,440.2 545.5,438.0 552.1,436.0 558.4,438.2 564.4,437.2 570.9,443.2 577.2,442.6 583.8,444.2 590.1,441.0 596.6,441.6 602.6,440.2 608.9,443.6 615.4,437.6 622.0,445.5 628.3,443.6 634.3,444.2 640.6,444.6 647.1,446.1 653.5,445.5 659.6,443.0 665.9,432.1 672.3,431.3 678.8,435.6 684.8,437.2 691.3,438.4 696.9,440.6 703.9,443.2 710.8,441.6 717.1,442.2 723.1,439.2 729.6,444.6 735.9,442.2 742.5,443.0 748.8,443.2 754.9,446.5 761.3,444.0 767.6,445.5 774.2,438.0 780.5,437.2 786.6,436.2 793.0,437.2 799.3,437.2 805.8,442.2 812.2,445.9 818.7,447.1 824.7,450.5 831.0,451.5 837.1,448.9 844.1,452.9 850.4,449.1 856.3,449.5 863.3,452.5 869.2,452.5 875.5,449.1 882.1,451.5 888.0,451.5 894.4,454.9 900.5,455.8 907.2,453.5 913.8,451.9 919.7,450.5 925.6,452.3 932.7,446.5 939.6,446.1 951.5,447.9 964.4,447.9 970.3,448.9 977.2,449.9 983.2,451.5 990.1,451.1 996.0,451.5 1002.0,456.4 1007.9,456.4 1014.9,458.0 1021.2,458.4 1027.7,457.0 1034.1,459.0 1040.6,449.9 1046.5,449.9 1053.1,446.5 1059.4,449.5 1066.3,449.1 1072.3,449.5 1078.8,444.2 1084.6,444.2 1091.1,436.2 1097.0,435.2 1104.0,435.0 1109.9,434.3 1116.4,435.2" fill="none" stroke="#2a46ff" stroke-width="1.1" stroke-linejoin="round"/>
<rect x="8" y="410" width="108" height="22" fill="rgba(0,0,0,0.6)"/>
<rect x="5" y="410" width="3" height="22" fill="#00ff00"/>
<text x="17" y="425.8" font-size="11" font-weight="bold" fill="#ffffff">RSI (14,70,30,1)</text>
<line x1="1142" x2="1147" y1="440.0" y2="440.0" stroke="#b8b8b8" stroke-width="1.8"/>
<text x="1149.1" y="443.90" font-size="11" fill="#555555">50.0000</text>
<line x1="1142" x2="1147" y1="473.2" y2="473.2" stroke="#b8b8b8" stroke-width="1.8"/>
<text x="1149.1" y="476.90" font-size="11" fill="#555555">0.0000</text>
<rect x="0.5" y="483.5" width="1141" height="69" fill="#f7f7f7" stroke="#cdd2e7" stroke-width="1"/>
<line x1="171.5" x2="171.5" y1="484" y2="552" stroke="#e2e2e2" stroke-width="1"/>
<line x1="1072.5" x2="1072.5" y1="484" y2="552" stroke="#e2e2e2" stroke-width="1"/>
<line x1="1" x2="1141" y1="509.5" y2="509.5" stroke="#e4e4e4" stroke-width="1"/>
<line x1="1" x2="1141" y1="546.5" y2="546.5" stroke="#e4e4e4" stroke-width="1"/>
<g id="mom">
<rect x="-2.50" y="485.1" width="5" height="24.5" fill="#0000ff"/>
<rect x="3.84" y="486.2" width="5" height="23.4" fill="#0000ff"/>
<rect x="10.19" y="487.3" width="5" height="22.3" fill="#0000ff"/>
<rect x="16.53" y="485.4" width="5" height="24.2" fill="#0000ff"/>
<rect x="22.88" y="490.1" width="5" height="19.5" fill="#0000ff"/>
<rect x="29.22" y="493.9" width="5" height="15.7" fill="#0000ff"/>
<rect x="35.57" y="496.0" width="5" height="13.6" fill="#0000ff"/>
<rect x="41.91" y="497.7" width="5" height="11.9" fill="#0000ff"/>
<rect x="48.26" y="499.0" width="5" height="10.6" fill="#0000ff"/>
<rect x="54.60" y="499.8" width="5" height="9.8" fill="#0000ff"/>
<rect x="60.94" y="503.0" width="5" height="6.6" fill="#0000ff"/>
<rect x="67.29" y="509.6" width="5" height="3.0" fill="#0000ff"/>
<rect x="73.63" y="506.0" width="5" height="3.6" fill="#0000ff"/>
<rect x="79.98" y="499.8" width="5" height="9.8" fill="#0000ff"/>
<rect x="86.32" y="500.0" width="5" height="9.6" fill="#0000ff"/>
<rect x="92.67" y="498.2" width="5" height="11.4" fill="#0000ff"/>
<rect x="99.01" y="489.5" width="5" height="20.1" fill="#0000ff"/>
<rect x="105.35" y="488.9" width="5" height="20.7" fill="#0000ff"/>
<rect x="111.70" y="500.8" width="5" height="8.8" fill="#0000ff"/>
<rect x="118.04" y="506.1" width="5" height="3.5" fill="#0000ff"/>
<rect x="124.39" y="509.6" width="5" height="1.7" fill="#0000ff"/>
<rect x="130.73" y="509.6" width="5" height="5.5" fill="#0000ff"/>
<rect x="137.08" y="509.6" width="5" height="10.9" fill="#0000ff"/>
<rect x="143.42" y="509.6" width="5" height="5.8" fill="#0000ff"/>
<rect x="149.77" y="509.6" width="5" height="14.0" fill="#0000ff"/>
<rect x="156.11" y="509.6" width="5" height="17.1" fill="#0000ff"/>
<rect x="162.45" y="509.6" width="5" height="11.3" fill="#0000ff"/>
<rect x="168.80" y="509.6" width="5" height="13.0" fill="#0000ff"/>
<rect x="175.14" y="509.6" width="5" height="14.4" fill="#0000ff"/>
<rect x="181.49" y="509.6" width="5" height="20.4" fill="#0000ff"/>
<rect x="187.83" y="509.6" width="5" height="21.0" fill="#0000ff"/>
<rect x="194.18" y="509.6" width="5" height="14.1" fill="#0000ff"/>
<rect x="200.52" y="509.6" width="5" height="18.0" fill="#0000ff"/>
<rect x="206.87" y="509.6" width="5" height="26.3" fill="#0000ff"/>
<rect x="213.21" y="509.6" width="5" height="29.6" fill="#0000ff"/>
<rect x="219.55" y="509.6" width="5" height="28.7" fill="#0000ff"/>
<rect x="225.90" y="509.6" width="5" height="30.8" fill="#0000ff"/>
<rect x="232.24" y="509.6" width="5" height="25.6" fill="#0000ff"/>
<rect x="238.59" y="509.6" width="5" height="18.6" fill="#0000ff"/>
<rect x="244.93" y="509.6" width="5" height="13.9" fill="#0000ff"/>
<rect x="251.28" y="509.6" width="5" height="12.1" fill="#0000ff"/>
<rect x="257.62" y="509.6" width="5" height="13.3" fill="#0000ff"/>
<rect x="263.96" y="509.6" width="5" height="6.3" fill="#0000ff"/>
<rect x="270.31" y="509.6" width="5" height="13.4" fill="#0000ff"/>
<rect x="276.65" y="509.6" width="5" height="5.7" fill="#0000ff"/>
<rect x="283.00" y="509.6" width="5" height="3.3" fill="#0000ff"/>
<rect x="289.34" y="509.6" width="5" height="7.1" fill="#0000ff"/>
<rect x="295.69" y="509.6" width="5" height="8.7" fill="#0000ff"/>
<rect x="302.03" y="509.6" width="5" height="6.8" fill="#0000ff"/>
<rect x="308.38" y="509.6" width="5" height="14.3" fill="#0000ff"/>
<rect x="314.72" y="509.6" width="5" height="15.0" fill="#0000ff"/>
<rect x="321.06" y="509.6" width="5" height="15.2" fill="#0000ff"/>
<rect x="327.41" y="509.6" width="5" height="17.8" fill="#0000ff"/>
<rect x="333.75" y="509.6" width="5" height="17.4" fill="#0000ff"/>
<rect x="340.10" y="509.6" width="5" height="18.5" fill="#0000ff"/>
<rect x="346.44" y="509.6" width="5" height="22.0" fill="#0000ff"/>
<rect x="352.79" y="509.6" width="5" height="26.9" fill="#0000ff"/>
<rect x="359.13" y="509.6" width="5" height="29.1" fill="#0000ff"/>
<rect x="365.48" y="509.6" width="5" height="33.6" fill="#0000ff"/>
<rect x="371.82" y="509.6" width="5" height="36.1" fill="#0000ff"/>
<rect x="378.16" y="509.6" width="5" height="41.6" fill="#0000ff"/>
<rect x="384.51" y="509.6" width="5" height="37.6" fill="#0000ff"/>
<rect x="390.85" y="509.6" width="5" height="39.5" fill="#0000ff"/>
<rect x="397.20" y="509.6" width="5" height="39.5" fill="#0000ff"/>
<rect x="403.54" y="509.6" width="5" height="33.4" fill="#0000ff"/>
<rect x="409.89" y="509.6" width="5" height="30.9" fill="#0000ff"/>
<rect x="416.23" y="509.6" width="5" height="27.1" fill="#0000ff"/>
<rect x="422.57" y="509.6" width="5" height="27.4" fill="#0000ff"/>
<rect x="428.92" y="509.6" width="5" height="25.6" fill="#0000ff"/>
<rect x="435.26" y="509.6" width="5" height="12.6" fill="#0000ff"/>
<rect x="441.61" y="509.6" width="5" height="16.1" fill="#0000ff"/>
<rect x="447.95" y="509.6" width="5" height="14.6" fill="#0000ff"/>
<rect x="454.30" y="509.6" width="5" height="11.1" fill="#0000ff"/>
<rect x="460.64" y="509.6" width="5" height="6.6" fill="#0000ff"/>
<rect x="466.99" y="507.1" width="5" height="2.5" fill="#0000ff"/>
<rect x="473.33" y="507.4" width="5" height="2.2" fill="#0000ff"/>
<rect x="479.67" y="506.7" width="5" height="2.9" fill="#0000ff"/>
<rect x="486.02" y="507.3" width="5" height="2.3" fill="#0000ff"/>
<rect x="492.36" y="498.2" width="5" height="11.4" fill="#0000ff"/>
<rect x="498.71" y="496.4" width="5" height="13.2" fill="#0000ff"/>
<rect x="505.05" y="488.8" width="5" height="20.8" fill="#0000ff"/>
<rect x="511.40" y="487.3" width="5" height="22.3" fill="#0000ff"/>
<rect x="517.74" y="490.5" width="5" height="19.1" fill="#0000ff"/>
<rect x="524.09" y="492.2" width="5" height="17.4" fill="#0000ff"/>
<rect x="530.43" y="500.0" width="5" height="9.6" fill="#0000ff"/>
<rect x="536.77" y="499.3" width="5" height="10.3" fill="#0000ff"/>
<rect x="543.12" y="501.5" width="5" height="8.1" fill="#0000ff"/>
<rect x="549.46" y="495.9" width="5" height="13.7" fill="#0000ff"/>
<rect x="555.81" y="500.4" width="5" height="9.2" fill="#0000ff"/>
<rect x="562.15" y="499.3" width="5" height="10.3" fill="#0000ff"/>
<rect x="568.50" y="502.4" width="5" height="7.2" fill="#0000ff"/>
<rect x="574.84" y="502.5" width="5" height="7.1" fill="#0000ff"/>
<rect x="581.18" y="505.2" width="5" height="4.4" fill="#0000ff"/>
<rect x="587.53" y="503.5" width="5" height="6.1" fill="#0000ff"/>
<rect x="593.87" y="508.5" width="5" height="1.1" fill="#0000ff"/>
<rect x="600.22" y="507.9" width="5" height="1.7" fill="#0000ff"/>
<rect x="606.56" y="509.6" width="5" height="2.8" fill="#0000ff"/>
<rect x="612.91" y="508.1" width="5" height="1.5" fill="#0000ff"/>
<rect x="619.25" y="509.6" width="5" height="12.8" fill="#0000ff"/>
<rect x="625.60" y="509.6" width="5" height="9.8" fill="#0000ff"/>
<rect x="631.94" y="509.6" width="5" height="14.6" fill="#0000ff"/>
<rect x="638.28" y="509.6" width="5" height="14.5" fill="#0000ff"/>
<rect x="644.63" y="509.6" width="5" height="13.0" fill="#0000ff"/>
<rect x="650.97" y="509.6" width="5" height="9.5" fill="#0000ff"/>
<rect x="657.32" y="509.6" width="5" height="2.4" fill="#0000ff"/>
<rect x="663.66" y="502.1" width="5" height="7.5" fill="#0000ff"/>
<rect x="670.01" y="503.5" width="5" height="6.1" fill="#0000ff"/>
<rect x="676.35" y="509.1" width="5" height="1.0" fill="#0000ff"/>
<rect x="682.70" y="509.1" width="5" height="1.0" fill="#0000ff"/>
<rect x="689.04" y="509.6" width="5" height="2.2" fill="#0000ff"/>
<rect x="695.38" y="508.4" width="5" height="1.2" fill="#0000ff"/>
<rect x="701.73" y="509.6" width="5" height="2.3" fill="#0000ff"/>
<rect x="708.07" y="509.1" width="5" height="1.0" fill="#0000ff"/>
<rect x="714.42" y="509.6" width="5" height="2.8" fill="#0000ff"/>
<rect x="720.76" y="508.6" width="5" height="1.0" fill="#0000ff"/>
<rect x="727.11" y="509.6" width="5" height="6.3" fill="#0000ff"/>
<rect x="733.45" y="509.6" width="5" height="1.5" fill="#0000ff"/>
<rect x="739.79" y="509.6" width="5" height="7.6" fill="#0000ff"/>
<rect x="746.14" y="507.9" width="5" height="1.7" fill="#0000ff"/>
<rect x="752.48" y="509.6" width="5" height="3.9" fill="#0000ff"/>
<rect x="758.83" y="509.6" width="5" height="1.3" fill="#0000ff"/>
<rect x="765.17" y="509.6" width="5" height="3.1" fill="#0000ff"/>
<rect x="771.52" y="502.9" width="5" height="6.7" fill="#0000ff"/>
<rect x="777.86" y="502.7" width="5" height="6.9" fill="#0000ff"/>
<rect x="784.21" y="503.8" width="5" height="5.8" fill="#0000ff"/>
<rect x="790.55" y="509.6" width="5" height="8.4" fill="#0000ff"/>
<rect x="796.89" y="509.6" width="5" height="9.4" fill="#0000ff"/>
<rect x="803.24" y="509.6" width="5" height="9.9" fill="#0000ff"/>
<rect x="809.58" y="509.6" width="5" height="12.2" fill="#0000ff"/>
<rect x="815.93" y="509.6" width="5" height="12.5" fill="#0000ff"/>
<rect x="822.27" y="509.6" width="5" height="14.4" fill="#0000ff"/>
<rect x="828.62" y="509.6" width="5" height="13.0" fill="#0000ff"/>
<rect x="834.96" y="509.6" width="5" height="12.6" fill="#0000ff"/>
<rect x="841.31" y="509.6" width="5" height="17.1" fill="#0000ff"/>
<rect x="847.65" y="509.6" width="5" height="18.1" fill="#0000ff"/>
<rect x="853.99" y="509.6" width="5" height="12.7" fill="#0000ff"/>
<rect x="860.34" y="509.6" width="5" height="17.6" fill="#0000ff"/>
<rect x="866.68" y="509.6" width="5" height="17.2" fill="#0000ff"/>
<rect x="873.03" y="509.6" width="5" height="14.8" fill="#0000ff"/>
<rect x="879.37" y="509.6" width="5" height="14.1" fill="#0000ff"/>
<rect x="885.72" y="509.6" width="5" height="16.8" fill="#0000ff"/>
<rect x="892.06" y="509.6" width="5" height="19.6" fill="#0000ff"/>
<rect x="898.40" y="509.6" width="5" height="29.5" fill="#0000ff"/>
<rect x="904.75" y="509.6" width="5" height="28.7" fill="#0000ff"/>
<rect x="911.09" y="509.6" width="5" height="28.4" fill="#0000ff"/>
<rect x="917.44" y="509.6" width="5" height="26.8" fill="#0000ff"/>
<rect x="923.78" y="509.6" width="5" height="28.8" fill="#0000ff"/>
<rect x="930.13" y="509.6" width="5" height="20.1" fill="#0000ff"/>
<rect x="936.47" y="509.6" width="5" height="15.3" fill="#0000ff"/>
<rect x="942.82" y="509.6" width="5" height="14.7" fill="#0000ff"/>
<rect x="949.16" y="509.6" width="5" height="11.1" fill="#0000ff"/>
<rect x="955.50" y="509.6" width="5" height="9.8" fill="#0000ff"/>
<rect x="961.85" y="509.6" width="5" height="11.8" fill="#0000ff"/>
<rect x="968.19" y="509.6" width="5" height="7.4" fill="#0000ff"/>
<rect x="974.54" y="509.6" width="5" height="10.2" fill="#0000ff"/>
<rect x="980.88" y="509.6" width="5" height="11.5" fill="#0000ff"/>
<rect x="987.23" y="509.6" width="5" height="8.1" fill="#0000ff"/>
<rect x="993.57" y="509.6" width="5" height="8.4" fill="#0000ff"/>
<rect x="999.92" y="509.6" width="5" height="16.1" fill="#0000ff"/>
<rect x="1006.26" y="509.6" width="5" height="13.5" fill="#0000ff"/>
<rect x="1012.60" y="509.6" width="5" height="14.7" fill="#0000ff"/>
<rect x="1018.95" y="509.6" width="5" height="10.6" fill="#0000ff"/>
<rect x="1025.29" y="509.6" width="5" height="8.1" fill="#0000ff"/>
<rect x="1031.64" y="509.6" width="5" height="12.7" fill="#0000ff"/>
<rect x="1037.98" y="509.6" width="5" height="9.2" fill="#0000ff"/>
<rect x="1044.33" y="509.6" width="5" height="10.3" fill="#0000ff"/>
<rect x="1050.67" y="509.6" width="5" height="6.0" fill="#0000ff"/>
<rect x="1057.01" y="509.6" width="5" height="12.9" fill="#0000ff"/>
<rect x="1063.36" y="509.6" width="5" height="13.0" fill="#0000ff"/>
<rect x="1069.70" y="509.6" width="5" height="12.7" fill="#0000ff"/>
<rect x="1076.05" y="509.6" width="5" height="8.6" fill="#0000ff"/>
<rect x="1082.39" y="509.6" width="5" height="8.5" fill="#0000ff"/>
<rect x="1088.74" y="509.6" width="5" height="2.4" fill="#0000ff"/>
<rect x="1095.08" y="509.1" width="5" height="1.0" fill="#0000ff"/>
<rect x="1101.43" y="509.1" width="5" height="1.0" fill="#0000ff"/>
<rect x="1107.77" y="507.5" width="5" height="2.1" fill="#0000ff"/>
<rect x="1114.11" y="507.9" width="5" height="1.7" fill="#0000ff"/>
</g>
<rect x="8" y="488" width="77" height="22" fill="rgba(0,0,0,0.6)"/>
<rect x="5" y="488" width="3" height="22" fill="#0000ff"/>
<text x="17" y="503.8" font-size="11" font-weight="bold" fill="#ffffff">MOM (20)</text>
<line x1="1142" x2="1147" y1="509.5" y2="509.5" stroke="#808080" stroke-width="1"/>
<text x="1149.1" y="513.90" font-size="11" fill="#555555">-0.0000</text>
<line x1="1142" x2="1147" y1="546.5" y2="546.5" stroke="#808080" stroke-width="1"/>
<text x="1149.1" y="549.90" font-size="11" fill="#555555">-0.0200</text>
<line x1="0.5" x2="0.5" y1="553" y2="555" stroke="#777" stroke-width="1"/>
<text x="0" y="568.8" font-size="11" fill="#555555">Feb</text>
<line x1="31.5" x2="31.5" y1="553" y2="555" stroke="#777" stroke-width="1"/>
<text x="31.7" y="568.8" font-size="11" fill="#555555" text-anchor="middle">23</text>
<line x1="63.5" x2="63.5" y1="553" y2="555" stroke="#777" stroke-width="1"/>
<text x="63.4" y="568.8" font-size="11" fill="#555555" text-anchor="middle">24</text>
<line x1="95.5" x2="95.5" y1="553" y2="555" stroke="#777" stroke-width="1"/>
<text x="95.2" y="568.8" font-size="11" fill="#555555" text-anchor="middle">25</text>
<line x1="126.5" x2="126.5" y1="553" y2="555" stroke="#777" stroke-width="1"/>
<text x="126.9" y="568.8" font-size="11" fill="#555555" text-anchor="middle">26</text>
<line x1="171.5" x2="171.5" y1="553" y2="555" stroke="#777" stroke-width="1"/>
<text x="171.3" y="568.8" font-size="11" fill="#555555" text-anchor="middle">Mar</text>
<line x1="209.5" x2="209.5" y1="553" y2="555" stroke="#777" stroke-width="1"/>
<text x="209.4" y="568.8" font-size="11" fill="#555555" text-anchor="middle">2</text>
<line x1="247.5" x2="247.5" y1="553" y2="555" stroke="#777" stroke-width="1"/>
<text x="247.4" y="568.8" font-size="11" fill="#555555" text-anchor="middle">3</text>
<line x1="285.5" x2="285.5" y1="553" y2="555" stroke="#777" stroke-width="1"/>
<text x="285.5" y="568.8" font-size="11" fill="#555555" text-anchor="middle">4</text>
<line x1="323.5" x2="323.5" y1="553" y2="555" stroke="#777" stroke-width="1"/>
<text x="323.6" y="568.8" font-size="11" fill="#555555" text-anchor="middle">5</text>
<line x1="361.5" x2="361.5" y1="553" y2="555" stroke="#777" stroke-width="1"/>
<text x="361.6" y="568.8" font-size="11" fill="#555555" text-anchor="middle">7</text>
<line x1="406.5" x2="406.5" y1="553" y2="555" stroke="#777" stroke-width="1"/>
<text x="406.0" y="568.8" font-size="11" fill="#555555" text-anchor="middle">9</text>
<line x1="444.5" x2="444.5" y1="553" y2="555" stroke="#777" stroke-width="1"/>
<text x="444.1" y="568.8" font-size="11" fill="#555555" text-anchor="middle">10</text>
<line x1="482.5" x2="482.5" y1="553" y2="555" stroke="#777" stroke-width="1"/>
<text x="482.2" y="568.8" font-size="11" fill="#555555" text-anchor="middle">11</text>
<line x1="520.5" x2="520.5" y1="553" y2="555" stroke="#777" stroke-width="1"/>
<text x="520.2" y="568.8" font-size="11" fill="#555555" text-anchor="middle">12</text>
<line x1="558.5" x2="558.5" y1="553" y2="555" stroke="#777" stroke-width="1"/>
<text x="558.3" y="568.8" font-size="11" fill="#555555" text-anchor="middle">14</text>
<line x1="602.5" x2="602.5" y1="553" y2="555" stroke="#777" stroke-width="1"/>
<text x="602.7" y="568.8" font-size="11" fill="#555555" text-anchor="middle">16</text>
<line x1="640.5" x2="640.5" y1="553" y2="555" stroke="#777" stroke-width="1"/>
<text x="640.8" y="568.8" font-size="11" fill="#555555" text-anchor="middle">17</text>
<line x1="678.5" x2="678.5" y1="553" y2="555" stroke="#777" stroke-width="1"/>
<text x="678.9" y="568.8" font-size="11" fill="#555555" text-anchor="middle">18</text>
<line x1="716.5" x2="716.5" y1="553" y2="555" stroke="#777" stroke-width="1"/>
<text x="716.9" y="568.8" font-size="11" fill="#555555" text-anchor="middle">19</text>
<line x1="754.5" x2="754.5" y1="553" y2="555" stroke="#777" stroke-width="1"/>
<text x="755.0" y="568.8" font-size="11" fill="#555555" text-anchor="middle">21</text>
<line x1="799.5" x2="799.5" y1="553" y2="555" stroke="#777" stroke-width="1"/>
<text x="799.4" y="568.8" font-size="11" fill="#555555" text-anchor="middle">23</text>
<line x1="837.5" x2="837.5" y1="553" y2="555" stroke="#777" stroke-width="1"/>
<text x="837.5" y="568.8" font-size="11" fill="#555555" text-anchor="middle">24</text>
<line x1="875.5" x2="875.5" y1="553" y2="555" stroke="#777" stroke-width="1"/>
<text x="875.5" y="568.8" font-size="11" fill="#555555" text-anchor="middle">25</text>
<line x1="913.5" x2="913.5" y1="553" y2="555" stroke="#777" stroke-width="1"/>
<text x="913.6" y="568.8" font-size="11" fill="#555555" text-anchor="middle">26</text>
<line x1="951.5" x2="951.5" y1="553" y2="555" stroke="#777" stroke-width="1"/>
<text x="951.7" y="568.8" font-size="11" fill="#555555" text-anchor="middle">28</text>
<line x1="996.5" x2="996.5" y1="553" y2="555" stroke="#777" stroke-width="1"/>
<text x="996.1" y="568.8" font-size="11" fill="#555555" text-anchor="middle">30</text>
<line x1="1034.5" x2="1034.5" y1="553" y2="555" stroke="#777" stroke-width="1"/>
<text x="1034.1" y="568.8" font-size="11" fill="#555555" text-anchor="middle">31</text>
<line x1="1072.5" x2="1072.5" y1="553" y2="555" stroke="#777" stroke-width="1"/>
<text x="1072.2" y="568.8" font-size="11" fill="#555555" text-anchor="middle">Apr</text>
<line x1="1110.5" x2="1110.5" y1="553" y2="555" stroke="#777" stroke-width="1"/>
<text x="1110.3" y="568.8" font-size="11" fill="#555555" text-anchor="middle">2</text>
</g>
</svg>
</body></html>
